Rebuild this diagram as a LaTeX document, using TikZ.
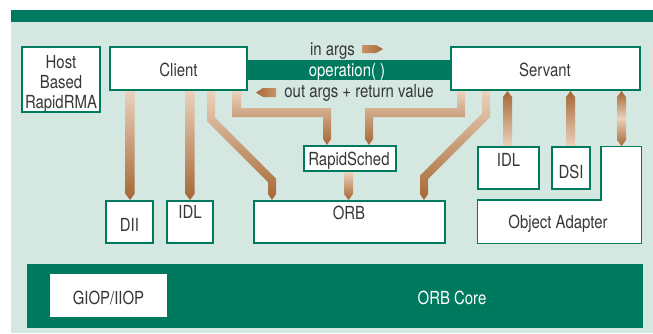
\documentclass[tikz,border=0pt]{standalone}
\usepackage{fontspec}
\setmainfont{TeX Gyre Heros}[FakeStretch=0.83]
\usetikzlibrary{calc}
\definecolor{grn}{RGB}{0,122,94}
\definecolor{panel}{RGB}{213,231,225}
\definecolor{cuL}{RGB}{234,210,188}
\definecolor{cuM}{RGB}{200,148,108}
\definecolor{cuD}{RGB}{166,102,52}
\definecolor{txt}{RGB}{55,55,55}
% vertical copper arrows, tip at #2
\newcommand\cudown[2]{\shade[top color=cuL, bottom color=cuD] let \p1=(#1), \p2=(#2) in
  (\x1-4.5pt,\y1) -- (\x1+4.5pt,\y1) -- (\x1+4.5pt,\y2+6pt) -- (\x1,\y2) -- (\x1-4.5pt,\y2+6pt) -- cycle;}
\newcommand\cuup[2]{\shade[top color=cuD, bottom color=cuL] let \p1=(#1), \p2=(#2) in
  (\x1-4.5pt,\y1) -- (\x1+4.5pt,\y1) -- (\x1+4.5pt,\y2-6pt) -- (\x1,\y2) -- (\x1-4.5pt,\y2-6pt) -- cycle;}
\newcommand\cuboth[2]{\shade[top color=cuD, bottom color=cuD, middle color=cuL] let \p1=(#1), \p2=(#2) in
  (\x1,\y1) -- (\x1+4.5pt,\y1+6pt) -- (\x1+4.5pt,\y2-6pt) -- (\x1,\y2) -- (\x1-4.5pt,\y2-6pt) -- (\x1-4.5pt,\y1+6pt) -- cycle;}
\begin{document}
\begin{tikzpicture}[x=1pt,y=-1pt,
  every node/.style={font=\fontsize{18}{20}\selectfont, text=txt, inner sep=0pt},
  box/.style={draw=grn, line width=1.6pt, fill=white},
  lbl/.style={anchor=base},
  wlbl/.style={anchor=base, text=white},
  copper/.style={top color=cuL, bottom color=cuD}]
\useasboundingbox (0,0) rectangle (653,333);
\fill[white] (0,0) rectangle (653,333);
\fill[panel] (11,10) rectangle (653,333);
\fill[grn] (11,10) rectangle (653,22);

% operation bar
\node[fill=grn, minimum width=203pt, minimum height=20pt] (op) at (349,70) {};
\node[wlbl] (optxt) at (347,76) {operation( )};

% boxes
\node[box, minimum width=78.5pt, minimum height=65.5pt] (host) at (61,79.5) {};
\node[lbl] (hostA) at (61,68) {Host};
\node[lbl] (hostB) at (61,88) {Based};
\node[lbl] (hostC) at (61,108) {RapidRMA};

\node[box, minimum width=137.5pt, minimum height=43.5pt] (client) at (178.5,68.5) {};
\node[lbl] (clienttxt) at (178.5,76.5) {Client};

\node[box, minimum width=189.5pt, minimum height=43.5pt] (servant) at (545.5,68.5) {};
\node[lbl] (servanttxt) at (545,76.5) {Servant};

\node[box, minimum width=92.5pt, minimum height=25.5pt] (sched) at (350,158.5) {};
\node[lbl] (schedtxt) at (349,165.5) {RapidSched};

\node[box, minimum width=191.5pt, minimum height=42.5pt] (orb) at (349.5,222) {};
\node[lbl] (orbtxt) at (349,219.5) {ORB};

\node[box, minimum width=47.5pt, minimum height=42.5pt] (dii) at (129.5,222) {};
\node[lbl] (diitxt) at (129.5,231.5) {DII};

\node[box, minimum width=46.5pt, minimum height=42.5pt] (idlc) at (190,222) {};
\node[lbl] (idlctxt) at (190,218) {IDL};

\node[box, minimum width=61.5pt, minimum height=42.5pt] (idls) at (508.5,168) {};
\node[lbl] (idlstxt) at (508.5,166) {IDL};

\node[box, minimum width=38.5pt, minimum height=42.5pt] (dsi) at (571,168) {};
\node[lbl] (dsitxt) at (571,178) {DSI};

\draw[box] (477.5,200) -- (601,200) -- (601,146.5) -- (641.5,146.5) -- (641.5,243.5) -- (477.5,243.5) -- cycle;
\node[lbl] (oatxt) at (558,228) {Object Adapter};
\coordinate (oatop) at (621.5,146);

% ORB core
\node[fill=grn, minimum width=616pt, minimum height=64pt] (core) at (335,296) {};
\node[fill=white, minimum width=117pt, minimum height=43pt] (giop) at (108.5,295.5) {};
\node[lbl] (giotxt) at (108.5,304) {GIOP/IIOP};
\node[wlbl] (coretxt) at (452,304) {ORB Core};

% in / out args
\node[lbl] (inargs) at (332.5,55) {in args};
\shade[left color=cuM, right color=cuD] (362,45) -- (376,45) -- (383,49) -- (376,53) -- (362,53) -- cycle;
\node[lbl] (outargs) at (359,97.5) {out args + return value};
\shade[left color=cuD, right color=cuM] (276,88) -- (263,88) -- (256,92.5) -- (263,97) -- (276,97) -- cycle;

% copper connectors
\cudown{client.south -| 130,0}{dii.north -| 130,0}
\cudown{client.south -| 190,0}{idlc.north -| 190,0}
\cudown{sched.south -| 348.5,0}{orb.north -| 348.5,0}
\shade[copper] (client.south -| 207,0) -- (207,121) -- (268,182) -- (268,194) -- (orb.north -| 272,0) -- (276,194) -- (276,178.7) -- (215,117.7) -- (client.south -| 215,0) -- cycle;
\shade[copper] (servant.south -| 490,0) -- (490,117) -- (428,179) -- (428,194) -- (orb.north -| 424,0) -- (420,194) -- (420,175.7) -- (482,113.7) -- (servant.south -| 482,0) -- cycle;
\shade[copper] (client.south -| 232,0) -- (232,117) -- (323,117) -- (323,139) -- (sched.north -| 327,0) -- (331,139) -- (331,108) -- (241,108) -- (client.south -| 241,0) -- cycle;
\shade[copper] (servant.south -| 465,0) -- (465,117) -- (373,117) -- (373,139) -- (sched.north -| 369,0) -- (365,139) -- (365,108) -- (457,108) -- (servant.south -| 457,0) -- cycle;
\cuup{idls.north -| 507.5,0}{servant.south -| 507.5,0}
\cuup{dsi.north -| 570.5,0}{servant.south -| 570.5,0}
\cuboth{oatop}{servant.south -| 621.5,0}
\end{tikzpicture}
\end{document}
